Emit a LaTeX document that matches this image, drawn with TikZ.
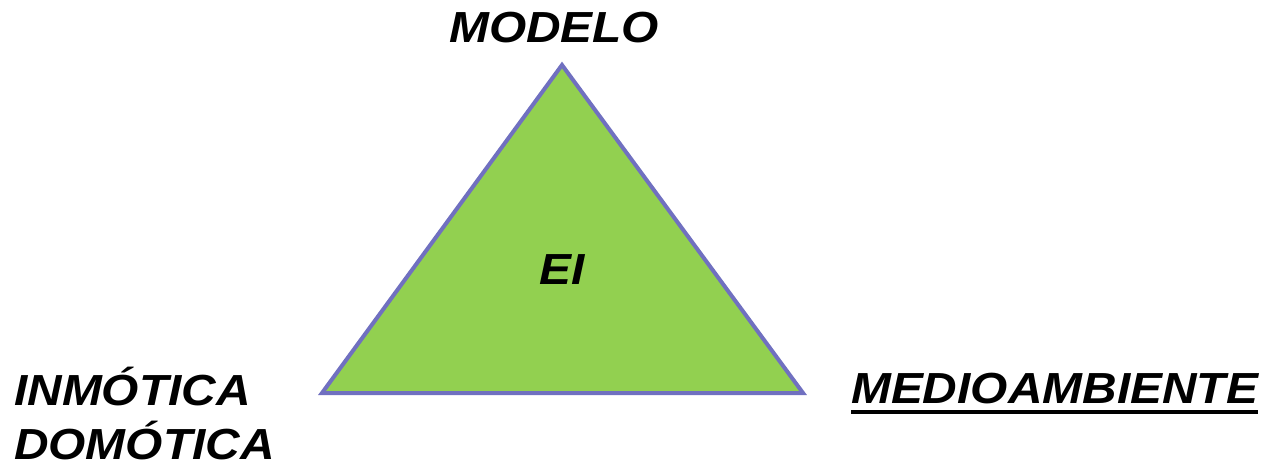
\documentclass[tikz,border=0pt]{standalone}
\usepackage{fontspec}
\setmainfont{Liberation Sans}[FakeStretch=1.1]
\definecolor{trifill}{HTML}{92D050}
\definecolor{triline}{HTML}{7070C0}
\begin{document}
\begin{tikzpicture}[x=1pt,y=1pt,
  lbl/.style={inner sep=0pt,anchor=base west,font=\fontsize{43.5}{50}\selectfont\bfseries\itshape}]
\useasboundingbox (0,0) rectangle (1268,466);
\coordinate (top) at (562,401);
\coordinate (bl) at (322,73);
\coordinate (br) at (803,73);
\filldraw[fill=trifill,draw=triline,line width=4pt] (top) -- (bl) -- (br) -- cycle;
\node[lbl] (modelo) at (449,423) {MODELO};
\node[lbl] (ei) at (539,181) {EI};
\node[lbl] (inm) at (14,61) {INMÓTICA};
\node[lbl] (dom) at (14,7) {DOMÓTICA};
\node[lbl] (med) at (851,63) {MEDIOAMBIENTE};
\draw[line width=4pt] ([yshift=-9pt]med.base west) -- ([yshift=-9pt]med.base east);
\end{tikzpicture}
\end{document}
